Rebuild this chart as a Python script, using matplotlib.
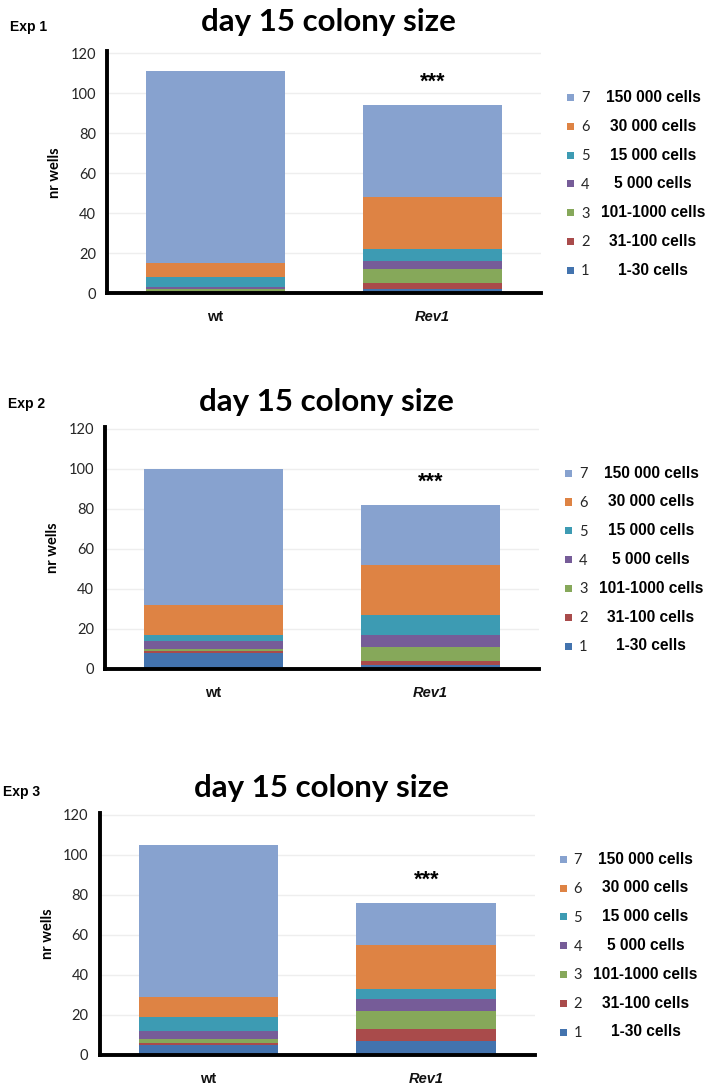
import matplotlib
matplotlib.use("Agg")
import matplotlib.pyplot as plt
from matplotlib.patches import Rectangle

# ---- data -------------------------------------------------------------
categories = ["wt", "Rev1"]
class_ids = ["1", "2", "3", "4", "5", "6", "7"]
size_classes = ["1-30 cells", "31-100 cells", "101-1000 cells", "5 000 cells",
                "15 000 cells", "30 000 cells", "150 000 cells"]

# wells per size class (class 1 .. class 7)
exp1_wt = [0, 0, 2, 1, 5, 7, 96]
exp1_rev1 = [2, 3, 7, 4, 6, 26, 46]
exp2_wt = [8, 1, 1, 4, 3, 15, 68]
exp2_rev1 = [2, 2, 7, 6, 10, 25, 30]
exp3_wt = [5, 1, 2, 4, 7, 10, 76]
exp3_rev1 = [7, 6, 9, 6, 5, 22, 21]

experiments = ["Exp 1", "Exp 2", "Exp 3"]
significance = "***"
title_text = "day 15 colony size"
y_label = "nr wells"
y_ticks = [0, 20, 40, 60, 80, 100, 120]

colors = ["#4373AE", "#A94B4B", "#86A85A", "#765C98", "#3D9BB3", "#DE8344", "#87A2CF"]

# ---- layout helpers (pixel -> figure fraction) --------------------------
W, H = 710, 1088
fig = plt.figure(figsize=(W / 100, H / 100), dpi=100)


def fx(px):
    return px / W


def fy(py):
    return 1 - py / H


UNIT = 2.0  # pixels per well on the value axis
YMAX = 121
# (axes left px, axes right px, baseline px, title y px, exp label (x, y))
panels = [
    (107, 541, 293.3, 22, (10, 27)),
    (105, 539, 669.0, 402, (8, 404)),
    (99.5, 535, 1055.0, 788, (3, 792)),
]
data = [(exp1_wt, exp1_rev1), (exp2_wt, exp2_rev1), (exp3_wt, exp3_rev1)]

calibri_like = ["Lato", "DejaVu Sans"]
arial_like = ["Liberation Sans", "DejaVu Sans"]

for p, ((left, right, base, title_y, (ex, ey)), (wt, rev)) in enumerate(zip(panels, data)):
    top = base - YMAX * UNIT
    ax = fig.add_axes([fx(left), fy(base), fx(right) - fx(left), (base - top) / H])

    # stacked bars
    bottoms = [0, 0]
    for i in range(len(class_ids)):
        vals = [wt[i], rev[i]]
        ax.bar([0, 1], vals, width=0.64, bottom=bottoms, color=colors[i],
               edgecolor="none", zorder=2)
        bottoms = [bottoms[0] + vals[0], bottoms[1] + vals[1]]

    ax.set_xlim(-0.5, 1.5)
    ax.set_ylim(0, YMAX)
    ax.set_yticks(y_ticks)
    ax.set_yticklabels([str(t) for t in y_ticks], family=calibri_like,
                       fontsize=10.5, color="#262626")
    ax.yaxis.grid(True, color="#EEEEEE", linewidth=1.0, zorder=0)
    ax.set_axisbelow(True)
    ax.tick_params(axis="both", length=0)
    ax.tick_params(axis="y", pad=8)
    ax.tick_params(axis="x", pad=12)

    ax.set_xticks([0, 1])
    ax.set_xticklabels(categories, family=arial_like, fontweight="bold",
                       fontsize=10.5, color="#111111")
    ax.get_xticklabels()[1].set_fontstyle("italic")

    for s in ["top", "right"]:
        ax.spines[s].set_visible(False)
    for s in ["left", "bottom"]:
        ax.spines[s].set_linewidth(2.8)
        ax.spines[s].set_color("black")
        ax.spines[s].set_capstyle("projecting")

    ax.set_ylabel(y_label, family=calibri_like, fontweight="bold", fontsize=10.5,
                  labelpad=6)

    # significance above the Rev1 stack
    ax.annotate(significance, xy=(1, sum(rev)), xytext=(0, 9),
                textcoords="offset points", ha="center", va="bottom",
                family=arial_like, fontweight="bold", fontsize=15.5)

    # title and experiment tag
    fig.text(fx((left + right) / 2 + 4), fy(title_y), title_text, ha="center",
             va="center", family=calibri_like, fontweight="bold", fontsize=22.5)
    fig.text(fx(ex), fy(ey), experiments[p], ha="left", va="center",
             family=arial_like, fontweight="bold", fontsize=10)

    # legend: class 7 on top down to class 1
    for i in range(len(class_ids)):
        yc = base - 23 - i * 28.8
        sq = 7
        fig.add_artist(Rectangle((fx(left + 460), fy(yc + sq / 2)), sq / W, sq / H,
                                 transform=fig.transFigure, facecolor=colors[i],
                                 edgecolor="none"))
        fig.text(fx(left + 474), fy(yc + 1), class_ids[i], ha="left", va="center",
                 family=calibri_like, fontsize=10.5, color="#262626")
        fig.text(fx(left + 546), fy(yc), size_classes[i], ha="center", va="center",
                 family=arial_like, fontweight="bold", fontsize=11.2)

fig.savefig("out.png", dpi=100)
